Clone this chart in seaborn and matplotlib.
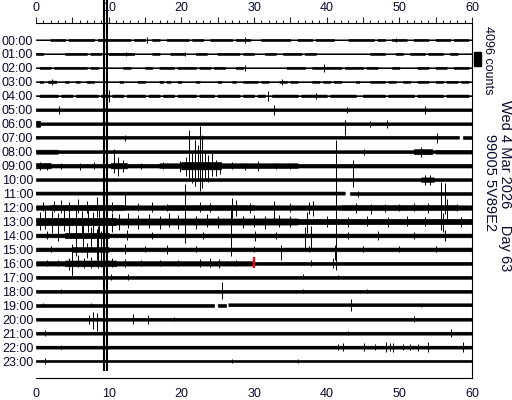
import numpy as np
import matplotlib
matplotlib.use("Agg")
import matplotlib.pyplot as plt
import seaborn as sns
from matplotlib.patches import Rectangle
from matplotlib.ticker import MultipleLocator, FixedLocator, FixedFormatter

hour_labels = ["00:00", "01:00", "02:00", "03:00", "04:00", "05:00", "06:00", "07:00",
               "08:00", "09:00", "10:00", "11:00", "12:00", "13:00", "14:00", "15:00",
               "16:00", "17:00", "18:00", "19:00", "20:00", "21:00", "22:00", "23:00"]
minute_ticks = [0, 5, 10, 15, 20, 25, 30, 35, 40, 45, 50, 55, 60]
minute_labels = ["0", "", "10", "", "20", "", "30", "", "40", "", "50", "", "60"]

scale_counts = 4096  # counts per trace spacing (scale bar)

# quiet half-width of each hour's trace, counts (0 = bare line)
base_counts = [0, 0, 0, 0, 0, 420, 420, 420, 430, 550,
               430, 450, 650, 800, 550, 550, 450, 430, 430, 430,
               430, 430, 430, 280]

# louder stretches: row -> (start min, end min, half-width counts)
loud_spans = {
    0: [(2, 4, 300), (4.5, 8, 300), (8.5, 13, 300), (13.5, 15, 300), (16, 17, 300), (18, 21, 300),
        (21.5, 23, 300), (24, 27, 300), (27.5, 29.5, 300), (31, 35, 300), (36, 38, 300),
        (38.5, 41, 300), (43, 46.5, 300), (47, 48, 300), (49, 51, 300), (52, 54, 300),
        (55, 57, 300), (57.5, 59.5, 300)],
    1: [(0, 1, 300), (4, 7, 300), (7.5, 9, 300), (10, 13.5, 350), (16, 17, 300), (18.5, 20.5, 300),
        (22, 23.5, 300), (25, 28, 300), (28.5, 30, 300), (31.5, 33, 300), (34, 36.5, 300),
        (37, 38.5, 300), (46, 48, 300), (49.5, 50.5, 300), (51.5, 53.5, 300), (54, 56, 300),
        (57, 58, 300)],
    2: [(0.5, 2, 300), (2.5, 7, 300), (7.5, 8.5, 300), (12, 13, 300), (15, 16, 300), (17, 19, 300),
        (19.5, 22, 300), (22.5, 24, 300), (24.5, 26, 300), (27.5, 28.5, 300), (34.5, 37, 300),
        (38, 42, 300), (42.5, 45, 300), (45.5, 47, 300), (49, 50, 300), (52.5, 54, 300),
        (55, 56.5, 300), (57.5, 59.5, 300)],
    3: [(0.5, 1, 280), (1.7, 2.8, 380), (4, 4.5, 280), (5.5, 6, 280), (7, 8, 280), (11.5, 12, 280),
        (14, 15, 280), (17, 17.5, 280), (18, 18.5, 280), (19.5, 20, 280), (22, 22.5, 280),
        (25, 25.5, 280), (27, 27.5, 280), (28.5, 30.5, 280), (31, 32, 280), (33.5, 34.5, 280),
        (35, 36, 280), (38, 39, 280), (39.5, 40.5, 280), (41, 42, 280), (44, 44.5, 280),
        (46, 48, 280), (48.5, 49.5, 280), (50.5, 51.5, 280), (52.5, 54, 280), (55, 56, 280),
        (56.5, 58, 280), (58.5, 59.5, 280)],
    4: [(0.5, 3, 380), (3.5, 5, 380), (5.5, 8.5, 380), (9, 10, 380), (10.5, 12, 380), (12.5, 15, 380),
        (15.5, 17, 380), (17.5, 19, 380), (19.5, 22, 380), (22.5, 24.5, 380), (25, 28, 380),
        (28.5, 30, 380), (30.5, 31.5, 380), (32.5, 36, 380), (36.5, 40, 380), (40.5, 44, 380),
        (45, 48, 380), (48.5, 52, 380), (52.5, 56, 380), (56.5, 59.5, 380)],
    6: [(0, 0.6, 900)],
    8: [(0, 3, 600), (52, 54.5, 750), (55, 60, 550)],
    9: [(0, 2, 800), (10.3, 12.5, 800), (17, 20, 700), (20, 25.5, 1100), (25.5, 36, 700)],
    10: [(53, 54.8, 650)],
    12: [(2, 12, 800), (18, 30, 750), (42, 58, 750)],
    13: [(0, 11, 1100), (11, 36, 900)],
    14: [(4, 10, 800)],
    15: [(5, 10, 700)],
    16: [(0, 30, 650), (4, 11, 850)],
}

# breaks in the trace: (row, start min, end min)
gaps = [(7, 58.3, 58.8), (11, 42.6, 43.2), (19, 24.6, 25.0), (19, 26.2, 26.5)]

# single wiggles: (row, minute, counts up, counts down)
spikes = [
    (0, 15.3, 900, 900), (0, 28.8, 900, 900), (0, 49.5, 600, 600),
    (1, 12.4, 600, 600), (1, 20.5, 600, 600),
    (2, 28.8, 900, 900), (2, 39.6, 1200, 1200),
    (3, 2.2, 900, 900), (3, 33.8, 900, 900),
    (4, 10.0, 1800, 1800), (4, 31.9, 1500, 1500), (4, 38.5, 900, 900),
    (5, 3.2, 1200, 1200), (5, 32.8, 1500, 1500), (5, 42.8, 900, 900), (5, 53.6, 1200, 1200),
    (6, 42.5, 1200, 3300), (6, 46.0, 900, 900), (6, 48.3, 1200, 1200),
    (7, 12.3, 900, 900), (7, 55.2, 1500, 1500),
    (8, 45.2, 900, 900), (8, 53.0, 1500, 1500),
    (9, 0.5, 1200, 1200), (9, 1.5, 900, 1200), (9, 3.5, 900, 900), (9, 6.0, 900, 1200),
    (9, 8.0, 1200, 900), (9, 10.8, 4800, 2100), (9, 11.3, 2400, 3000), (9, 12.0, 1800, 1800),
    (9, 14.5, 900, 900), (9, 17.5, 1200, 900), (9, 19.8, 1500, 1800), (9, 20.6, 2400, 3000),
    (9, 21.0, 10500, 3600), (9, 21.4, 4000, 5000), (9, 21.9, 7500, 6000), (9, 22.3, 6000, 4500),
    (9, 22.6, 11700, 7500), (9, 22.9, 9000, 6600), (9, 23.3, 4500, 3600), (9, 23.7, 3000, 4800),
    (9, 24.2, 3600, 3000), (9, 24.8, 1800, 3000), (9, 25.3, 1200, 2400), (9, 27.0, 1200, 900),
    (9, 28.8, 900, 1200), (9, 30.5, 1500, 1500), (9, 33.0, 900, 900), (9, 35.0, 900, 900),
    (9, 43.6, 1800, 3600),
    (10, 43.6, 600, 2100), (10, 53.5, 1500, 1500), (10, 54.2, 1500, 1500),
    (11, 44.3, 900, 900), (11, 55.7, 3300, 4500), (11, 56.3, 3000, 6000),
    (12, 1.0, 1500, 900), (12, 2.5, 1800, 1200), (12, 3.5, 2100, 1500), (12, 4.5, 1500, 1200),
    (12, 5.8, 2400, 1500), (12, 7.0, 1800, 1500), (12, 8.4, 3000, 2700), (12, 10.5, 1500, 1200),
    (12, 12.3, 3900, 600), (12, 14.0, 1200, 900), (12, 16.0, 1500, 1200), (12, 18.0, 900, 900),
    (12, 20.5, 6900, 3600), (12, 22.5, 1500, 1200), (12, 24.0, 1200, 1200), (12, 27.0, 2700, 3000),
    (12, 27.5, 2100, 2400), (12, 29.5, 1200, 1500), (12, 32.8, 1800, 4200), (12, 35.0, 1200, 1200),
    (12, 37.6, 1500, 1800), (12, 38.1, 1800, 2400), (12, 41.3, 19800, 15600), (12, 44.0, 1200, 1500),
    (12, 46.1, 900, 1800), (12, 48.0, 900, 1200), (12, 50.0, 900, 900), (12, 52.0, 1200, 900),
    (12, 54.0, 1200, 1500), (12, 55.8, 2700, 6600), (12, 56.6, 2400, 3600), (12, 58.0, 900, 900),
    (13, 0.5, 2700, 2400), (13, 1.3, 3600, 2100), (13, 2.2, 3000, 3300), (13, 3.0, 2400, 3000),
    (13, 3.8, 3300, 2700), (13, 4.6, 2700, 3600), (13, 5.5, 3600, 3900), (13, 6.3, 3000, 4500),
    (13, 7.1, 3300, 3000), (13, 7.9, 2700, 4200), (13, 8.7, 3900, 4800), (13, 10.4, 2400, 3000),
    (13, 11.4, 2100, 2400), (13, 12.6, 2400, 1800), (13, 14.0, 1800, 2100), (13, 15.5, 2100, 1800),
    (13, 17.0, 1500, 2100), (13, 18.3, 2400, 1500), (13, 19.6, 1800, 2100), (13, 20.5, 3000, 4500),
    (13, 22.0, 1500, 2100), (13, 23.5, 2100, 1500), (13, 25.0, 1500, 1800), (13, 26.8, 3600, 2400),
    (13, 28.5, 1500, 1800), (13, 30.0, 1800, 1500), (13, 31.5, 1500, 2100), (13, 33.5, 1800, 1500),
    (13, 35.0, 1500, 1500), (13, 37.3, 2700, 3300), (13, 40.0, 1500, 1500), (13, 43.0, 1200, 1500),
    (13, 45.5, 1500, 1200), (13, 48.5, 1200, 1500), (13, 51.0, 1500, 1200), (13, 53.5, 1200, 1200),
    (13, 56.0, 2400, 3000), (13, 58.5, 1200, 1500),
    (14, 1.5, 1200, 900), (14, 3.0, 1500, 1500), (14, 5.5, 3600, 6000), (14, 6.5, 3000, 4500),
    (14, 7.5, 2400, 3600), (14, 8.5, 2700, 4800), (14, 12.5, 1500, 1200), (14, 16.0, 900, 900),
    (14, 20.5, 2400, 2100), (14, 23.0, 900, 900), (14, 26.8, 2100, 1800), (14, 30.1, 1200, 1500),
    (14, 33.0, 900, 900), (14, 37.0, 2400, 3600), (14, 37.8, 2700, 3900), (14, 43.0, 900, 900),
    (14, 47.0, 1200, 1200), (14, 52.0, 900, 900), (14, 56.3, 1500, 1500),
    (15, 2.0, 900, 900), (15, 5.0, 1500, 7500), (15, 7.0, 1800, 2400), (15, 8.4, 6000, 3000),
    (15, 9.0, 5400, 3000), (15, 12.3, 1500, 1200), (15, 15.0, 900, 900), (15, 18.0, 1200, 1200),
    (15, 22.0, 900, 900), (15, 26.8, 2400, 1800), (15, 30.0, 900, 900), (15, 33.7, 1200, 3000),
    (15, 37.5, 900, 900), (15, 41.1, 1200, 3000), (15, 45.0, 900, 900), (15, 50.0, 900, 900),
    (15, 55.0, 900, 900),
    (16, 1.5, 900, 900), (16, 3.0, 900, 900), (16, 4.5, 1500, 1800), (16, 5.0, 4200, 3300),
    (16, 5.8, 2400, 1200), (16, 6.6, 1500, 1500), (16, 7.5, 1800, 1500), (16, 8.5, 4500, 1500),
    (16, 9.0, 3900, 1200), (16, 10.5, 1500, 1200), (16, 12.3, 1200, 1200), (16, 14.5, 900, 900),
    (16, 17.0, 900, 900), (16, 19.5, 900, 900), (16, 22.5, 1200, 1200), (16, 24.0, 1500, 1200),
    (16, 25.2, 1200, 1500), (16, 27.5, 900, 900), (16, 37.8, 900, 900), (16, 40.9, 1500, 1500),
    (16, 41.3, 1500, 1800),
    (17, 10.3, 900, 900), (17, 12.7, 900, 900), (17, 36.7, 900, 600), (17, 41.5, 600, 600),
    (18, 3.5, 600, 600), (18, 25.6, 2700, 2400), (18, 36.8, 600, 600), (18, 45.5, 600, 600),
    (19, 1.0, 600, 600), (19, 7.5, 600, 600), (19, 43.3, 1800, 1800), (19, 53.0, 600, 600),
    (20, 7.3, 1200, 1500), (20, 7.9, 2100, 3000), (20, 8.4, 1800, 3600), (20, 13.4, 1500, 1500),
    (20, 15.4, 1200, 1500), (20, 19.0, 600, 600), (20, 52.0, 900, 900),
    (21, 1.2, 900, 900), (21, 43.0, 600, 600), (21, 57.1, 1200, 1200),
    (22, 3.5, 600, 600), (22, 41.5, 900, 900), (22, 42.2, 1200, 1200), (22, 45.1, 1200, 1200),
    (22, 46.6, 900, 900), (22, 48.2, 1500, 1500), (22, 48.7, 1200, 1200), (22, 49.1, 1200, 1500),
    (22, 50.5, 900, 900), (22, 51.5, 900, 900), (22, 52.5, 900, 1200), (22, 54.0, 1500, 1500),
    (22, 58.8, 1500, 1500),
    (23, 1.2, 900, 900), (23, 27.0, 600, 600), (23, 36.0, 600, 600),
]

# the big quake that runs off the whole page
big_event_row = 13
big_event_minutes = [9.42, 9.72]
big_event_counts = (66600, 43900)  # up, down

# current-time marker
now_row, now_minute = 16, 30.0

title_lines = ["Wed 4 Mar 2026    Day 63", "99005 5V89E2"]

# ---- drawing ----
sns.set_theme(style="white")
plt.rcParams["font.family"] = ["Liberation Sans", "DejaVu Sans"]
ink = "#0a0a30"

fig = plt.figure(figsize=(5.12, 4.0), dpi=100)
ax = fig.add_axes([36 / 512, 22 / 400, 436 / 512, 355 / 400])

t = np.linspace(0, 60, 1201)
for r in range(24):
    env = np.full_like(t, float(base_counts[r]))
    for m0, m1, c in loud_spans.get(r, []):
        env[(t >= m0) & (t <= m1)] = c
    keep = np.ones_like(t, dtype=bool)
    for gr, m0, m1 in gaps:
        if gr == r:
            keep &= ~((t >= m0) & (t <= m1))
    off = env / scale_counts
    if base_counts[r] > 0 or r in loud_spans:
        ax.fill_between(t, r - off, r + off, where=keep, color="black", linewidth=0.4)
    line = np.where(keep, float(r), np.nan)
    ax.plot(t, line, color="black", lw=0.75)

sp_row = np.array([s[0] for s in spikes], dtype=float)
sp_min = np.array([s[1] for s in spikes])
sp_up = np.array([s[2] for s in spikes]) / scale_counts
sp_dn = np.array([s[3] for s in spikes]) / scale_counts
ax.vlines(sp_min, sp_row - sp_up, sp_row + sp_dn, color="black", lw=0.7)

up, dn = big_event_counts
ax.vlines(big_event_minutes, big_event_row - up / scale_counts, big_event_row + dn / scale_counts,
          color="black", lw=1.5, clip_on=False, zorder=5)

ax.vlines(now_minute, now_row - 2000 / scale_counts, now_row + 1500 / scale_counts,
          color="red", lw=1.6, zorder=6)

# 4096-count scale bar just outside the right edge
ax.add_patch(Rectangle((60.3, 0.86), 0.95, scale_counts / scale_counts, color="black",
                       clip_on=False))

ax.set_xlim(0, 60)
ax.set_ylim(24.21, -1.218)
ax.set_yticks(range(24))
ax.set_yticklabels(hour_labels)
ax.tick_params(axis="y", length=0, pad=2, labelsize=9, labelcolor=ink)

ax.xaxis.set_major_locator(FixedLocator(minute_ticks))
ax.xaxis.set_major_formatter(FixedFormatter(minute_labels))
ax.xaxis.set_minor_locator(MultipleLocator(1))
ax.tick_params(axis="x", which="major", direction="in", length=4.5, width=0.8, pad=7,
               labelsize=9, labelcolor=ink, colors="black")
ax.tick_params(axis="x", which="minor", direction="in", length=2.2, width=0.8)
for lab in ax.get_xticklabels():
    lab.set_color(ink)

top = ax.secondary_xaxis("top")
top.xaxis.set_major_locator(FixedLocator(minute_ticks))
top.xaxis.set_major_formatter(FixedFormatter(minute_labels))
top.xaxis.set_minor_locator(MultipleLocator(1))
top.tick_params(axis="x", which="major", direction="out", length=4.5, width=0.8, pad=2,
                labelsize=9, labelcolor=ink)
top.tick_params(axis="x", which="minor", direction="out", length=2.2, width=0.8)
top.spines["top"].set_color("black")
top.spines["top"].set_linewidth(0.8)

ax.spines["left"].set_visible(False)
ax.spines["top"].set_visible(False)
for side in ["right", "bottom"]:
    ax.spines[side].set_color("black")
    ax.spines[side].set_linewidth(0.8)

fig.text(488 / 512, 1 - 60 / 400, "4096 counts", rotation=270, ha="center", va="center",
         fontsize=9, color=ink)
fig.text(505 / 512, 1 - 186 / 400, title_lines[0], rotation=270, ha="center", va="center",
         fontsize=10.5, color=ink)
fig.text(490 / 512, 1 - 183 / 400, title_lines[1], rotation=270, ha="center", va="center",
         fontsize=10.5, color=ink)

fig.savefig("out.png", dpi=100, facecolor="white")
